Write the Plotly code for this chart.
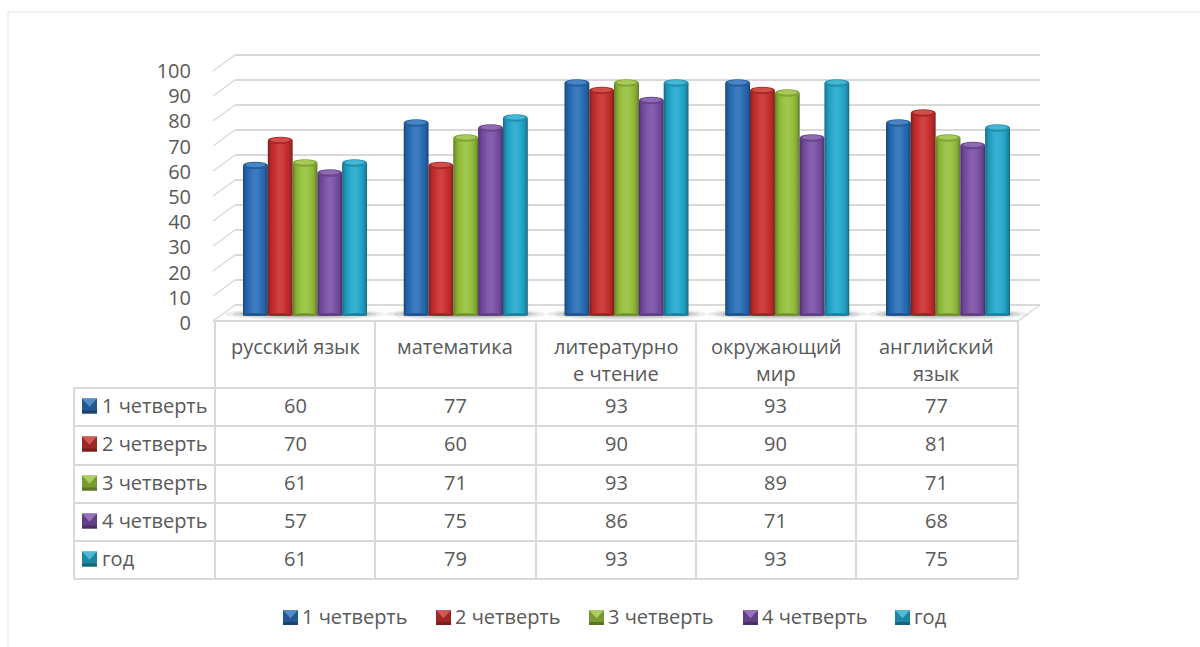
import plotly.graph_objects as go

categories = ["русский язык", "математика", "литературно<br>е чтение", "окружающий<br>мир", "английский<br>язык"]
series_names = ["1 четверть", "2 четверть", "3 четверть", "4 четверть", "год"]
q1 = [60, 77, 93, 93, 77]
q2 = [70, 60, 90, 90, 81]
q3 = [61, 71, 93, 89, 71]
q4 = [57, 75, 86, 71, 68]
year = [61, 79, 93, 93, 75]
all_values = [q1, q2, q3, q4, year]
base_colors = [(42, 110, 184), (200, 48, 46), (150, 192, 60), (122, 80, 166), (36, 168, 204)]
y_ticks = [0, 10, 20, 30, 40, 50, 60, 70, 80, 90, 100]

W, H = 1200, 647
GRID = "#d9d9d9"
TXT = "#595959"
FONT = "Open Sans"
FS = 20

def px(x): return x / W
def py(y): return 1 - y / H

def shade(c, f):
    if f <= 1:
        r = [v * f for v in c]
    else:
        r = [v + (255 - v) * (f - 1) for v in c]
    return "rgb(%d,%d,%d)" % tuple(int(round(v)) for v in r)

fig = go.Figure()

fig.add_trace(go.Scatter(x=[0, 1], y=[0, 100], mode="markers", marker=dict(opacity=0), xaxis="x", yaxis="y",
                         showlegend=False, hoverinfo="skip"))
fig.add_trace(go.Scatter(x=[0, 1], y=[0, 100], mode="markers", marker=dict(opacity=0), xaxis="x3", yaxis="y3",
                         showlegend=False, hoverinfo="skip"))

group_step = 160.75
centre0 = 305.0
bar_px = 24.8
bw = bar_px / group_step
layers = [(1.00, 0.62), (0.96, 0.70), (0.90, 0.78), (0.82, 0.86), (0.72, 0.92), (0.60, 0.97),
          (0.46, 1.02), (0.32, 1.06), (0.16, 1.09)]
for s, (name, vals, col) in enumerate(zip(series_names, all_values, base_colors)):
    centre = (s - 2) * bw
    for frac, f in layers:
        w = bw * frac
        fig.add_trace(go.Bar(x=categories, y=vals, name=name, width=[w] * 5, offset=[centre - w / 2] * 5,
                             marker=dict(color=shade(col, f), line=dict(width=0)),
                             xaxis="x2", yaxis="y2", showlegend=False, hoverinfo="skip"))

shapes = []
def line(x0, y0, x1, y1, color=GRID, width=2):
    shapes.append(dict(type="line", xref="paper", yref="paper", x0=px(x0), y0=py(y0), x1=px(x1), y1=py(y1),
                       line=dict(color=color, width=width), layer="below"))

line(8, 12, 1200, 12, "#e2e2e2", 1)
line(8, 12, 8, 647, "#e2e2e2", 1)

for t in y_ticks:
    line(213, 321 - 2.5 * t, 235, 305 - 2.5 * t, GRID, 1.5)
line(1018, 321, 1040, 305, GRID, 1.5)

for i in range(5):
    cx = centre0 + i * group_step
    for hw, hh, op in [(80, 6, 0.14), (72, 4.5, 0.22), (65, 3, 0.32)]:
        shapes.append(dict(type="circle", xref="paper", yref="paper", x0=px(cx - hw), x1=px(cx + hw),
                           y0=py(314 + hh), y1=py(314 - hh), fillcolor="#808080", opacity=op,
                           line=dict(width=0), layer="below"))

table_x = [215, 375, 536, 696, 856, 1018]
table_y = [388, 426, 465, 503, 541, 579]
line(213, 321, 1018, 321)
for x in table_x:
    line(x, 321, x, 579)
line(74, 388, 74, 579)
for y in table_y:
    line(74, y, 1018, y)

annotations = []
def text(x, y, s, anchor="center"):
    annotations.append(dict(xref="paper", yref="paper", x=px(x), y=py(y), text=s, showarrow=False,
                            xanchor=anchor, yanchor="middle", font=dict(family=FONT, size=FS, color=TXT)))

def key(x, y, col):
    s = 15
    shapes.append(dict(type="rect", xref="paper", yref="paper", x0=px(x), x1=px(x + s), y0=py(y + s), y1=py(y),
                       fillcolor=shade(col, 0.8), line=dict(width=0), layer="above"))
    m = lambda a, b: "%.5f %.5f" % (px(a), py(b))
    shapes.append(dict(type="path", xref="paper", yref="paper",
                       path="M %s L %s L %s Z" % (m(x, y), m(x + s, y), m(x + s / 2, y + s * 0.55)),
                       fillcolor=shade(col, 1.2), line=dict(width=0), layer="above"))
    shapes.append(dict(type="path", xref="paper", yref="paper",
                       path="M %s L %s L %s L %s Z" % (m(x, y + s), m(x + s, y + s), m(x + s, y + s - 3), m(x, y + s - 3)),
                       fillcolor=shade(col, 0.6), line=dict(width=0), layer="above"))

row_centres = [405.5, 443.5, 482.5, 520.5, 558.5]
col_centres = [295, 455, 616, 776, 936]
for c, cat in zip(col_centres, categories):
    parts = cat.split("<br>")
    for j, part in enumerate(parts):
        text(c, 346 + j * 28, part)

for r, (name, vals, col) in enumerate(zip(series_names, all_values, base_colors)):
    yc = row_centres[r]
    key(82, yc - 7, col)
    text(100, yc, name, "left")
    for c, v in zip(col_centres, vals):
        text(c, yc, str(v))

legend_keys = [283, 436, 589, 743, 895]
for kx, name, col in zip(legend_keys, series_names, base_colors):
    key(kx, 610, col)
    text(kx + 17, 616, name, "left")

cap_h = 1.5
for s, (vals, col) in enumerate(zip(all_values, base_colors)):
    centre = (s - 2) * bw
    for i, v in enumerate(vals):
        xc = i + centre
        shapes.append(dict(type="circle", xref="x2", yref="y2", x0=xc - bw / 2, x1=xc + bw / 2,
                           y0=-cap_h * 0.6, y1=cap_h * 0.6, fillcolor=shade(col, 0.72), line=dict(width=0), layer="above"))
        shapes.append(dict(type="circle", xref="x2", yref="y2", x0=xc - bw / 2, x1=xc + bw / 2,
                           y0=v - cap_h, y1=v + cap_h, fillcolor=shade(col, 0.85), line=dict(width=0), layer="above"))
        shapes.append(dict(type="circle", xref="x2", yref="y2", x0=xc - bw * 0.40, x1=xc + bw * 0.40,
                           y0=v - cap_h * 0.45, y1=v + cap_h * 0.8, fillcolor=shade(col, 1.15), line=dict(width=0), layer="above"))

fig.update_layout(
    width=W, height=H, margin=dict(l=0, r=0, t=0, b=0, pad=0, autoexpand=False), paper_bgcolor="white", plot_bgcolor="rgba(0,0,0,0)",
    barmode="overlay", showlegend=False, shapes=shapes, annotations=annotations,
    font=dict(family=FONT, size=FS, color=TXT),
    xaxis=dict(domain=[px(235), px(1040)], visible=False, range=[0, 1], fixedrange=True),
    yaxis=dict(domain=[py(307.5), py(52.5)], range=[-1, 101], tickvals=y_ticks, showgrid=True, gridcolor=GRID, gridwidth=2,
               showticklabels=False, zeroline=False, ticks="", showline=False, fixedrange=True),
    xaxis2=dict(domain=[0, 1], visible=False, type="category", categoryorder="array", categoryarray=categories,
                range=[-centre0 / group_step, (W - centre0) / group_step], anchor="y2", fixedrange=True),
    yaxis2=dict(domain=[py(315.5), py(65.5)], range=[0, 100], visible=False, anchor="x2", fixedrange=True),
    xaxis3=dict(domain=[px(192), px(198)], visible=False, range=[0, 1], anchor="y3", fixedrange=True),
    yaxis3=dict(domain=[py(323), py(71)], range=[0, 100], tickvals=y_ticks, showgrid=False, zeroline=False,
                showline=False, ticks="", anchor="x3", tickfont=dict(family=FONT, size=FS, color=TXT), fixedrange=True),
)

fig.write_html("out.html", config={"displayModeBar": False},
               post_script="document.body.style.margin='0';")
